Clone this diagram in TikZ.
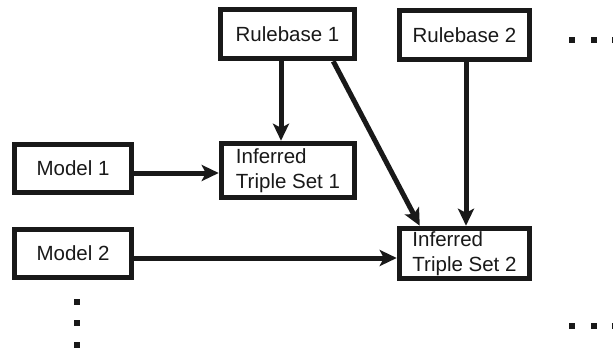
\documentclass[tikz,border=0pt]{standalone}
\usepackage{fontspec}
\setmainfont{Liberation Sans}
\usetikzlibrary{arrows.meta,calc}
\begin{document}
\begin{tikzpicture}[x=1pt,y=-1pt,
  box/.style={draw=black!90, line width=5.5pt, fill=white, inner sep=0pt,
    font=\fontsize{20.5}{24.5}\selectfont, text=black!90},
  conn/.style={line width=5pt, draw=black!90, -{Stealth[length=17pt,width=16pt,inset=4pt]}},
  dot/.style={fill=black!90}]
\clip (0,0) rectangle (613,351);
\fill[white] (0,0) rectangle (613,351);
\node[box, minimum width=134pt, minimum height=49pt] (rb1) at (287.5,34) {Rulebase 1};
\node[box, minimum width=130pt, minimum height=49pt] (rb2) at (464.5,35) {Rulebase 2};
\node[box, minimum width=117pt, minimum height=48pt] (m1) at (73,168.5) {Model 1};
\node[box, minimum width=117pt, minimum height=48pt] (m2) at (73,253.5) {Model 2};
\node[box, align=left, minimum width=133pt, minimum height=54pt] (s1) at (288,170.5) {Inferred\\Triple Set 1};
\node[box, align=left, minimum width=130pt, minimum height=50pt] (s2) at (464.5,253.5) {Inferred\\Triple Set 2};
\draw[conn] (rb1.south -| 281,0) -- (s1.north -| 281,0);
\draw[conn] ($(rb1.south east)+(-24,0)$) -- ($(s2.north west)+(23,0)$);
\draw[conn] (rb2.south -| 466,0) -- (s2.north -| 466,0);
\draw[conn] (m1.east |- 0,173) -- (s1.west |- 0,173);
\draw[conn] (m2.east |- 0,258) -- (s2.west |- 0,258);
\foreach \x in {572,594,615} {
  \fill[dot] (\x-3,37) rectangle (\x+3,43);
  \fill[dot] (\x-3,323) rectangle (\x+3,329);
}
\foreach \y in {302,323,345} {
  \fill[dot] (74,\y-3) rectangle (80,\y+3);
}
\end{tikzpicture}
\end{document}
